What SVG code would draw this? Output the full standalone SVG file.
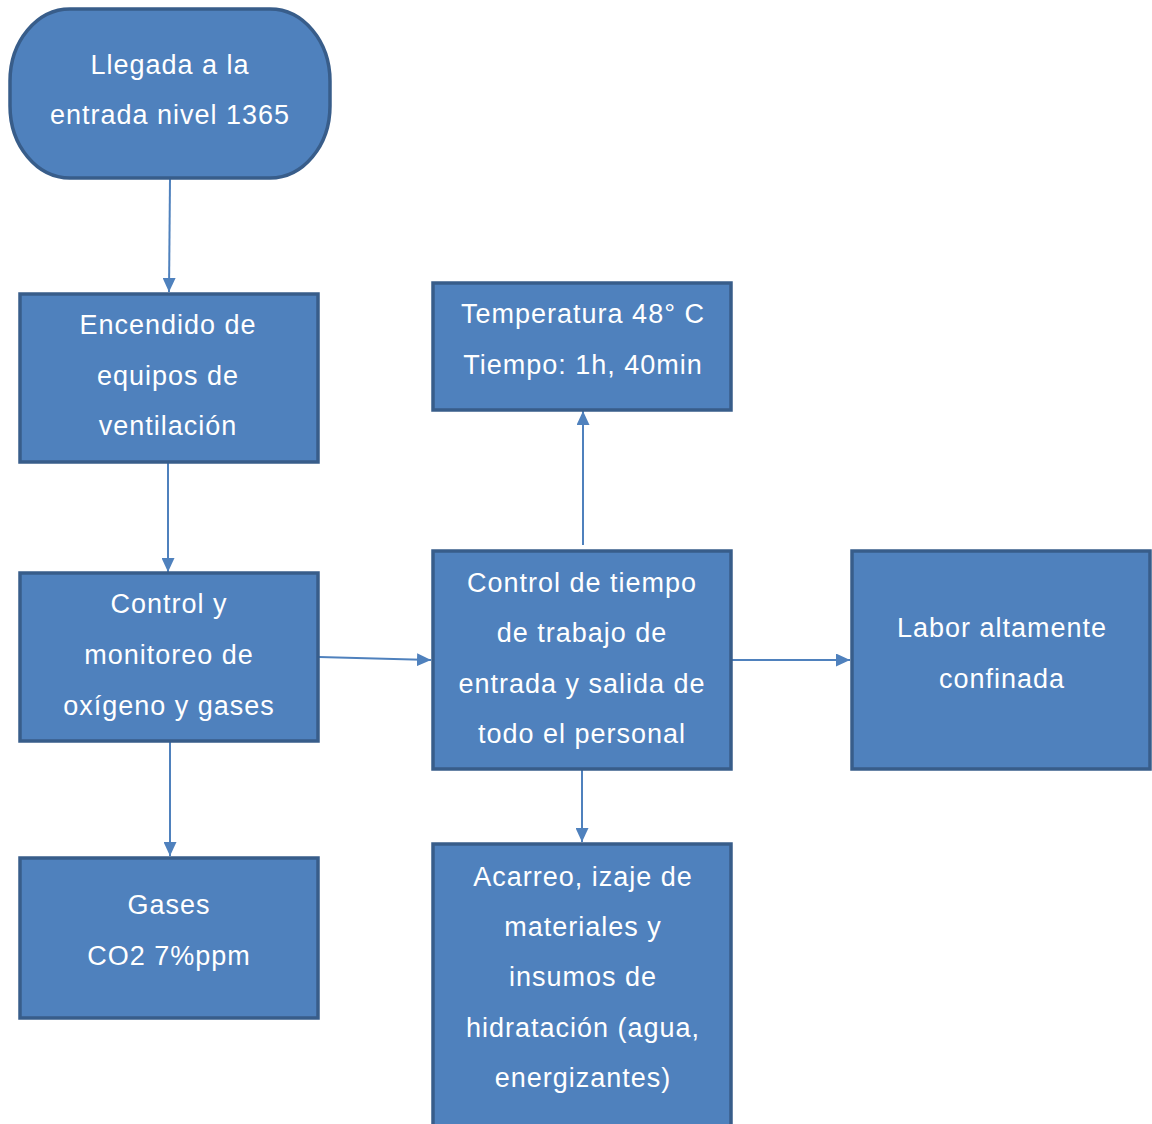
<svg xmlns="http://www.w3.org/2000/svg" width="1152" height="1124" viewBox="0 0 1152 1124">
<defs>
<marker id="ah" markerWidth="14" markerHeight="13" refX="14" refY="6.5" orient="auto" markerUnits="userSpaceOnUse">
<path d="M0,0 L14,6.5 L0,13 Z" fill="#4f81bd"/>
</marker>
<style>
.box{fill:#4f81bd;stroke:#385d8a;stroke-width:3.5}
.t{fill:#ffffff;font-family:"Liberation Sans",Arial,sans-serif;font-size:27px;letter-spacing:1px;text-anchor:middle}
.c{stroke:#4f81bd;stroke-width:2;fill:none;marker-end:url(#ah)}
</style>
</defs>
<rect width="1152" height="1124" fill="#ffffff"/>
<g id="connectors">
<line class="c" x1="170" y1="179" x2="169" y2="292"/>
<line class="c" x1="168" y1="463" x2="168" y2="572"/>
<line class="c" x1="170" y1="742" x2="170" y2="856"/>
<line class="c" x1="319" y1="657" x2="431" y2="660"/>
<line class="c" x1="583" y1="545" x2="583" y2="411"/>
<line class="c" x1="582" y1="770" x2="582" y2="842"/>
<line class="c" x1="732" y1="660" x2="850" y2="660"/>
</g>
<g id="n-llegada">
<rect class="box" x="10" y="9" width="320" height="169" rx="60" ry="72"/>
<text class="t"><tspan x="170" y="74">Llegada a la</tspan><tspan x="170" y="124">entrada nivel 1365</tspan></text>
</g>
<g id="n-encendido">
<rect class="box" x="20" y="294" width="298" height="168"/>
<text class="t"><tspan x="168" y="334">Encendido de</tspan><tspan x="168" y="385">equipos de</tspan><tspan x="168" y="435">ventilación</tspan></text>
</g>
<g id="n-control">
<rect class="box" x="20" y="573" width="298" height="168"/>
<text class="t"><tspan x="169" y="613">Control y</tspan><tspan x="169" y="664">monitoreo de</tspan><tspan x="169" y="715">oxígeno y gases</tspan></text>
</g>
<g id="n-gases">
<rect class="box" x="20" y="858" width="298" height="160"/>
<text class="t"><tspan x="169" y="914">Gases</tspan><tspan x="169" y="965">CO2 7%ppm</tspan></text>
</g>
<g id="n-temperatura">
<rect class="box" x="433" y="283" width="298" height="127"/>
<text class="t"><tspan x="583" y="323">Temperatura 48° C</tspan><tspan x="583" y="374">Tiempo: 1h, 40min</tspan></text>
</g>
<g id="n-tiempo">
<rect class="box" x="433" y="551" width="298" height="218"/>
<text class="t"><tspan x="582" y="592">Control de tiempo</tspan><tspan x="582" y="642">de trabajo de</tspan><tspan x="582" y="693">entrada y salida de</tspan><tspan x="582" y="743">todo el personal</tspan></text>
</g>
<g id="n-labor">
<rect class="box" x="852" y="551" width="298" height="218"/>
<text class="t"><tspan x="1002" y="637">Labor altamente</tspan><tspan x="1002" y="688">confinada</tspan></text>
</g>
<g id="n-acarreo">
<rect class="box" x="433" y="844" width="298" height="290"/>
<text class="t"><tspan x="583" y="886">Acarreo, izaje de</tspan><tspan x="583" y="936">materiales y</tspan><tspan x="583" y="986">insumos de</tspan><tspan x="583" y="1037">hidratación (agua,</tspan><tspan x="583" y="1087">energizantes)</tspan></text>
</g>
</svg>
